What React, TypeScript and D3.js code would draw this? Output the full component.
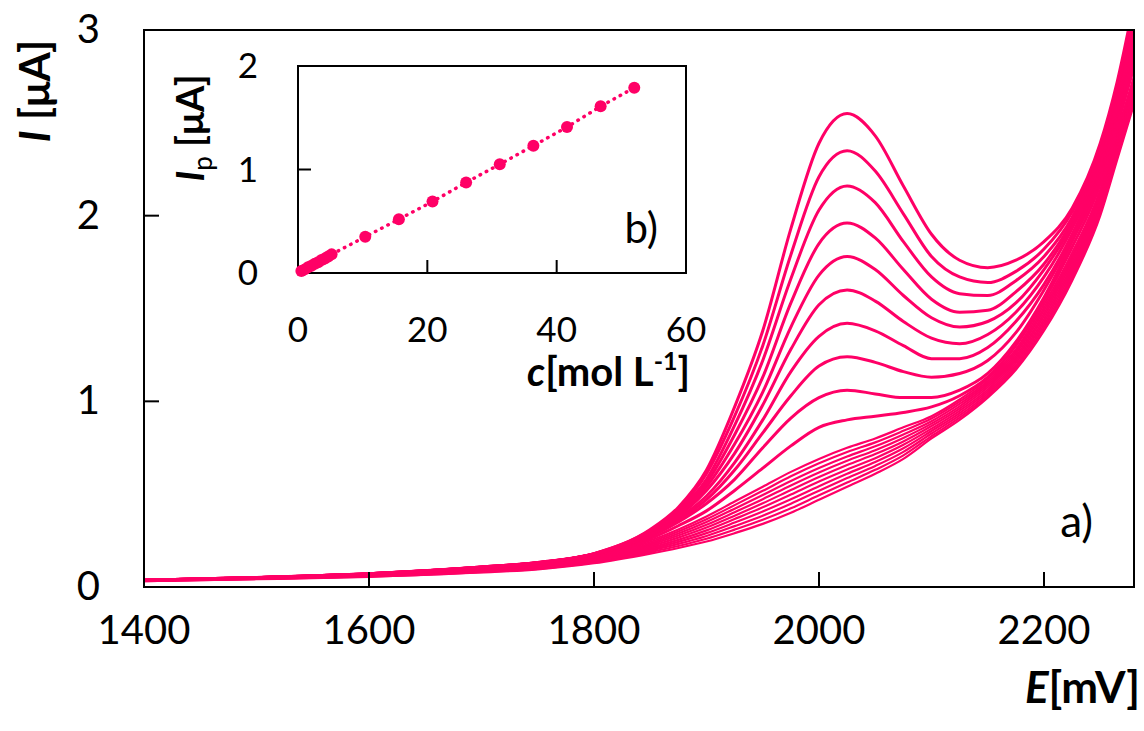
import React from 'react'
import * as d3 from 'd3'

// potential grid (mV) shared by every voltammogram
const E_MV = [1400, 1500, 1600, 1700, 1750, 1800, 1850, 1875, 1900, 1925, 1950, 1975, 2000, 2025, 2050, 2075, 2100, 2125, 2150, 2175, 2200, 2225, 2250, 2265, 2280]

// currents (uA), lowest concentration first
const blank = [0.032, 0.042, 0.055, 0.078, 0.095, 0.128, 0.18, 0.21, 0.245, 0.29, 0.34, 0.40, 0.47, 0.54, 0.61, 0.69, 0.80, 0.90, 1.02, 1.17, 1.38, 1.65, 2.00, 2.30, 2.60]
const c052 = [0.032, 0.043, 0.056, 0.080, 0.098, 0.132, 0.188, 0.221, 0.26, 0.309, 0.362, 0.424, 0.494, 0.563, 0.631, 0.709, 0.813, 0.912, 1.031, 1.182, 1.396, 1.667, 2.016, 2.317, 2.617]
const c104 = [0.033, 0.044, 0.058, 0.083, 0.101, 0.136, 0.196, 0.232, 0.275, 0.328, 0.384, 0.449, 0.519, 0.587, 0.652, 0.728, 0.827, 0.924, 1.042, 1.194, 1.411, 1.683, 2.031, 2.333, 2.633]
const c156 = [0.033, 0.045, 0.059, 0.085, 0.103, 0.140, 0.203, 0.243, 0.29, 0.347, 0.407, 0.473, 0.543, 0.61, 0.673, 0.747, 0.84, 0.937, 1.053, 1.207, 1.427, 1.70, 2.047, 2.35, 2.65]
const c208 = [0.034, 0.046, 0.061, 0.088, 0.106, 0.144, 0.211, 0.254, 0.305, 0.366, 0.429, 0.498, 0.568, 0.633, 0.694, 0.766, 0.853, 0.949, 1.064, 1.219, 1.442, 1.717, 2.062, 2.367, 2.667]
const c260 = [0.034, 0.046, 0.062, 0.090, 0.109, 0.149, 0.219, 0.266, 0.32, 0.384, 0.451, 0.522, 0.592, 0.657, 0.716, 0.784, 0.867, 0.961, 1.076, 1.231, 1.458, 1.733, 2.078, 2.383, 2.683]
const c312 = [0.035, 0.047, 0.064, 0.093, 0.112, 0.153, 0.227, 0.277, 0.335, 0.403, 0.473, 0.547, 0.617, 0.68, 0.737, 0.803, 0.88, 0.973, 1.087, 1.243, 1.473, 1.75, 2.093, 2.40, 2.70]
const c364 = [0.035, 0.048, 0.065, 0.095, 0.114, 0.157, 0.234, 0.288, 0.35, 0.422, 0.496, 0.571, 0.641, 0.703, 0.758, 0.822, 0.893, 0.986, 1.098, 1.256, 1.489, 1.767, 2.109, 2.417, 2.717]
const c416 = [0.036, 0.049, 0.067, 0.098, 0.117, 0.161, 0.242, 0.299, 0.365, 0.441, 0.518, 0.596, 0.666, 0.727, 0.779, 0.841, 0.907, 0.998, 1.109, 1.268, 1.504, 1.783, 2.124, 2.433, 2.733]
const c468 = [0.036, 0.05, 0.068, 0.10, 0.12, 0.165, 0.25, 0.31, 0.38, 0.46, 0.54, 0.62, 0.69, 0.75, 0.80, 0.86, 0.92, 1.01, 1.12, 1.28, 1.52, 1.80, 2.14, 2.45, 2.75]
const c520 = [0.036, 0.05, 0.069, 0.102, 0.125, 0.168, 0.26, 0.33, 0.41, 0.52, 0.64, 0.76, 0.86, 0.90, 0.92, 0.94, 0.97, 1.03, 1.13, 1.30, 1.54, 1.83, 2.17, 2.48, 2.80]
const c104x = [0.036, 0.05, 0.070, 0.105, 0.128, 0.175, 0.27, 0.35, 0.45, 0.58, 0.75, 0.91, 1.02, 1.06, 1.04, 1.02, 1.02, 1.06, 1.15, 1.32, 1.56, 1.86, 2.20, 2.51, 2.83]
const c156x = [0.036, 0.05, 0.070, 0.105, 0.129, 0.176, 0.275, 0.36, 0.47, 0.63, 0.83, 1.03, 1.19, 1.24, 1.21, 1.16, 1.13, 1.15, 1.22, 1.37, 1.60, 1.88, 2.22, 2.54, 2.87]
const c208x = [0.036, 0.05, 0.071, 0.106, 0.129, 0.176, 0.28, 0.37, 0.49, 0.67, 0.90, 1.16, 1.35, 1.42, 1.38, 1.30, 1.23, 1.23, 1.29, 1.43, 1.63, 1.90, 2.25, 2.56, 2.91]
const c260x = [0.036, 0.05, 0.071, 0.106, 0.130, 0.177, 0.284, 0.38, 0.52, 0.72, 0.98, 1.28, 1.52, 1.60, 1.54, 1.43, 1.34, 1.31, 1.36, 1.48, 1.67, 1.93, 2.27, 2.59, 2.95]
const c312x = [0.037, 0.051, 0.071, 0.107, 0.130, 0.177, 0.289, 0.39, 0.54, 0.77, 1.05, 1.40, 1.68, 1.78, 1.71, 1.57, 1.45, 1.40, 1.43, 1.53, 1.71, 1.95, 2.29, 2.61, 2.99]
const c364x = [0.037, 0.051, 0.072, 0.107, 0.131, 0.178, 0.294, 0.40, 0.56, 0.82, 1.13, 1.53, 1.85, 1.96, 1.88, 1.71, 1.55, 1.48, 1.49, 1.59, 1.74, 1.97, 2.32, 2.64, 3.02]
const c416x = [0.037, 0.051, 0.072, 0.108, 0.131, 0.178, 0.30, 0.41, 0.58, 0.87, 1.22, 1.66, 2.03, 2.16, 2.07, 1.86, 1.67, 1.58, 1.57, 1.65, 1.78, 1.99, 2.34, 2.67, 3.07]
const c468x = [0.037, 0.051, 0.072, 0.108, 0.132, 0.179, 0.305, 0.42, 0.61, 0.92, 1.30, 1.79, 2.21, 2.35, 2.24, 2.01, 1.78, 1.67, 1.64, 1.70, 1.82, 2.02, 2.36, 2.69, 3.11]
const c520x = [0.037, 0.051, 0.072, 0.108, 0.132, 0.18, 0.31, 0.43, 0.63, 0.97, 1.38, 1.93, 2.39, 2.55, 2.43, 2.16, 1.90, 1.76, 1.72, 1.76, 1.86, 2.04, 2.39, 2.72, 3.15]

const lowSeries = [blank, c052, c104, c156, c208, c260, c312, c364, c416, c468]
const highSeries = [c520, c104x, c156x, c208x, c260x, c312x, c364x, c416x, c468x, c520x]

// inset b): peak current vs concentration
const INSET_C = [0.52, 1.04, 1.56, 2.08, 2.6, 3.12, 3.64, 4.16, 4.68, 5.2, 10.4, 15.6, 20.8, 26, 31.2, 36.4, 41.6, 46.8, 52]
const INSET_IP = [0.02, 0.035, 0.055, 0.07, 0.09, 0.105, 0.125, 0.14, 0.16, 0.18, 0.35, 0.52, 0.69, 0.875, 1.05, 1.23, 1.41, 1.61, 1.79]

const X_TICKS = [1400, 1600, 1800, 2000, 2200]
const Y_TICKS = [0, 1, 2, 3]
const IX_TICKS = [0, 20, 40, 60]
const IY_TICKS = [0, 1, 2]

const PINK = '#ff0066'
const FONT = 'Lato, "Open Sans", sans-serif'

export default function App() {
  const x = d3.scaleLinear().domain([1400, 2280]).range([144, 1134])
  const y = d3.scaleLinear().domain([0, 3]).range([587, 30])
  const ix = d3.scaleLinear().domain([0, 60]).range([298, 686])
  const iy = d3.scaleLinear().domain([0, 2]).range([273, 66])

  const mainLine = d3.line<number>()
    .x((_, i) => x(E_MV[i]))
    .y(v => y(v))
    .curve(d3.curveMonotoneX)

  const insetLine = d3.line<number>()
    .x(c => ix(c))
    .y((_, i) => iy(INSET_IP[i]))

  return (
    <svg width={1144} height={731} style={{ position: 'absolute', left: 0, top: 0, background: '#fff' }} fontFamily={FONT}>
      <defs>
        <clipPath id="plot">
          <rect x={144} y={30} width={990} height={557} />
        </clipPath>
      </defs>

      <g clipPath="url(#plot)" fill="none" stroke={PINK} strokeLinejoin="round">
        {lowSeries.map((s, i) => (
          <path key={'l' + i} d={mainLine(s) || ''} strokeWidth={2.2} />
        ))}
        {highSeries.map((s, i) => (
          <path key={'h' + i} d={mainLine(s) || ''} strokeWidth={3} />
        ))}
      </g>

      {/* main frame and inward ticks */}
      <rect x={144} y={30} width={990} height={557} fill="none" stroke="#000" strokeWidth={2} />
      {X_TICKS.slice(1).map(t => (
        <line key={t} x1={x(t)} x2={x(t)} y1={587} y2={572} stroke="#000" strokeWidth={2} />
      ))}
      {Y_TICKS.slice(1, 3).map(t => (
        <line key={t} x1={144} x2={159} y1={y(t)} y2={y(t)} stroke="#000" strokeWidth={2} />
      ))}
      {X_TICKS.map(t => (
        <text key={t} x={x(t)} y={644} fontSize={40} textAnchor="middle">{t}</text>
      ))}
      {Y_TICKS.map(t => (
        <text key={t} x={100} y={y(t) + 13} fontSize={40} textAnchor="end">{t}</text>
      ))}
      <text x={1140} y={703} fontSize={44} fontWeight="bold" textAnchor="end">
        <tspan fontStyle="italic">E</tspan>[mV]
      </text>
      <text transform="translate(50,91) rotate(-90)" fontSize={42} fontWeight="bold" textAnchor="middle">
        <tspan fontStyle="italic">I</tspan> [μA]
      </text>
      <text x={1093} y={537} fontSize={44} textAnchor="end">a)</text>

      {/* inset b) */}
      <rect x={298} y={66} width={388} height={207} fill="#fff" stroke="#000" strokeWidth={2} />
      {IX_TICKS.slice(1, 3).map(t => (
        <line key={t} x1={ix(t)} x2={ix(t)} y1={273} y2={260} stroke="#000" strokeWidth={2} />
      ))}
      {IY_TICKS.slice(1, 2).map(t => (
        <line key={t} x1={298} x2={311} y1={iy(t)} y2={iy(t)} stroke="#000" strokeWidth={2} />
      ))}
      <path d={insetLine(INSET_C) || ''} fill="none" stroke={PINK} strokeWidth={3.5}
        strokeDasharray="0.5 6.5" strokeLinecap="round" />
      {INSET_C.map((c, i) => (
        <circle key={i} cx={ix(c)} cy={iy(INSET_IP[i])} r={6} fill={PINK} />
      ))}
      {IX_TICKS.map(t => (
        <text key={t} x={ix(t)} y={342} fontSize={35} textAnchor="middle">{t}</text>
      ))}
      {IY_TICKS.map(t => (
        <text key={t} x={258} y={iy(t) + 12} fontSize={35} textAnchor="end">{t}</text>
      ))}
      <text x={690} y={386} fontSize={40} fontWeight="bold" textAnchor="end">
        <tspan fontStyle="italic">c</tspan>[mol L<tspan fontSize={25} dy={-16}>-1</tspan><tspan dy={16}>]</tspan>
      </text>
      <text transform="translate(204,128) rotate(-90)" fontSize={38} fontWeight="bold" textAnchor="middle">
        <tspan fontStyle="italic">I</tspan><tspan fontSize={26} fontWeight="normal" dy={8}>p</tspan><tspan dy={-8}> [μA]</tspan>
      </text>
      <text x={658} y={243} fontSize={42} textAnchor="end">b)</text>
    </svg>
  )
}
